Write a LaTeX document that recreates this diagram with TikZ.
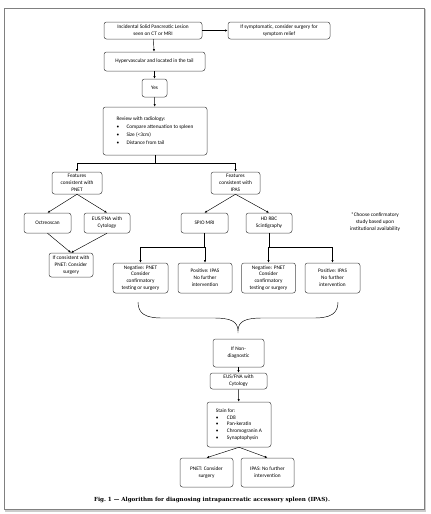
\documentclass[tikz,border=0pt]{standalone}
\usepackage{fontspec}
\setmainfont{Carlito}
\newfontfamily\capfont{DejaVu Serif}
\usetikzlibrary{arrows.meta}
\begin{document}
\begin{tikzpicture}[x=1pt, y=-1pt,
  box/.style={draw=black!70, rounded corners=2.5pt, line width=0.5pt, align=center, inner sep=1pt, font=\fontsize{5.3}{6.9}\selectfont},
  arr/.style={-{Latex[length=2.6pt,width=2.2pt]}, line width=0.45pt},
  ln/.style={line width=0.45pt}]
\useasboundingbox (0,0) rectangle (431,514);
% page frame
\draw[black!20, line width=1.6pt] (5.5,10) rectangle (425.5,511);
\draw[black!50, line width=0.9pt, fill=white] (4,8.5) rectangle (424,509.5);
% top of the chart
\node[box, minimum width=98pt, minimum height=17pt] (lesion) at (153,30.5){Incidental Solid Pancreatic Lesion\\seen on CT or MRI};
\node[box, minimum width=102pt, minimum height=17pt] (symp) at (279,30.5){If symptomatic, consider surgery for\\symptom relief};
\node[box, minimum width=101pt, minimum height=19pt] (hyper) at (154.5,61.5){Hypervascular and located in the tail};
\node[box, minimum width=25pt, minimum height=18pt] (yes) at (154.5,88){Yes};
\node[box, minimum width=104pt, minimum height=48pt, align=left] (review) at (155,131){Review with radiology:\\[1.2pt]
\makebox[10pt][l]{\textbullet}Compare attenuation to spleen\\[1.2pt]
\makebox[10pt][l]{\textbullet}Size (<3cm)\\[1.2pt]
\makebox[10pt][l]{\textbullet}Distance from tail};
\draw[arr](lesion) -- (symp);
\draw[arr](lesion) -- (hyper);
\draw[arr](hyper) -- (yes);
\draw[arr](yes) -- (review);
% split into PNET and IPAS
\node[box, minimum width=50pt, minimum height=22pt] (fpnet) at (77,183){Features\\consistent with\\PNET};
\node[box, minimum width=49pt, minimum height=22pt] (fipas) at (235.5,183){Features\\consistent with\\IPAS};
\coordinate (split1) at (155,163);
\draw[ln](review) -- (split1);
\draw[arr](split1) -| (fpnet);
\draw[arr](split1) -| (fipas);
% PNET side
\node[box, minimum width=47pt, minimum height=20pt] (octreo) at (47.5,223){Octreoscan};
\node[box, minimum width=46pt, minimum height=20pt] (eus1) at (107,223){EUS/FNA with\\Cytology};
\node[box, minimum width=44pt, minimum height=24pt] (ifcons) at (71,265){If consistent with\\PNET: Consider\\surgery};
\draw[arr](fpnet.south) -- (octreo.north);
\draw[arr](fpnet.south) -- (eus1.north);
\draw[arr](octreo.south) -- (ifcons.north);
\draw[arr](eus1.south) -- (ifcons.north);
% IPAS side
\node[box, minimum width=47pt, minimum height=20pt] (spio) at (204.5,223){SPIO MRI};
\node[box, minimum width=46pt, minimum height=20pt] (hdrbc) at (269,223){HD RBC\\Scintigraphy};
\node[align=center, font=\fontsize{5.3}{6.9}\selectfont] (note) at (375,222){*Choose confirmatory\\study based upon\\institutional availability};
\draw[arr](fipas.south) -- (spio.north);
\draw[arr](fipas.south) -- (hdrbc.north);
\node[box, minimum width=55pt, minimum height=30pt] (neg1) at (140.5,278){Negative: PNET\\Consider\\confirmatory\\testing or surgery};
\node[box, minimum width=54pt, minimum height=30pt] (pos1) at (205,278){Positive: IPAS\\No further\\intervention};
\node[box, minimum width=54pt, minimum height=30pt] (neg2) at (268.5,278){Negative: PNET\\Consider\\confirmatory\\testing or surgery};
\node[box, minimum width=55pt, minimum height=30pt] (pos2) at (332.5,278){Positive: IPAS\\No further\\intervention};
\coordinate (split2) at (204.5,247);
\coordinate (split3) at (269,247);
\draw[ln](spio) -- (split2);
\draw[arr](split2) -| (neg1);
\draw[arr](split2) -| (pos1);
\draw[ln](hdrbc) -- (split3);
\draw[arr](split3) -| (neg2);
\draw[arr](split3) -| (pos2);
% brace
\draw[ln] (138,302) .. controls (138,314) and (146,318) .. (162,318) -- (214,318)
  .. controls (230,318) and (238,321) .. (238,331)
  .. controls (238,321) and (246,318) .. (262,318) -- (314,318)
  .. controls (330,318) and (338,314) .. (338,302);
% bottom of the chart
\node[box, minimum width=51pt, minimum height=28pt] (nondiag) at (238.5,353){If Non-\\diagnostic};
\node[box, minimum width=57pt, minimum height=16pt] (eus2) at (238.5,381){EUS/FNA with\\Cytology};
\node[box, minimum width=64pt, minimum height=45pt, align=left] (stain) at (239,424.5){Stain for:\\
\makebox[11pt][l]{\textbullet}CD8\\
\makebox[11pt][l]{\textbullet}Pan-keratin\\
\makebox[11pt][l]{\textbullet}Chromogranin A\\
\makebox[11pt][l]{\textbullet}Synaptophysin};
\node[box, minimum width=53pt, minimum height=29pt] (pnetsurg) at (206.5,472.5){PNET: Consider\\surgery};
\node[box, minimum width=53pt, minimum height=29pt] (ipasno) at (267.5,472.5){IPAS: No further\\intervention};
\draw[arr](nondiag) -- (eus2);
\draw[arr](eus2) -- (stain);
\draw[arr](stain.south) -- (pnetsurg.north);
\draw[arr](stain.south) -- (ipasno.north);
% caption
\node[font=\capfont\bfseries\fontsize{5.6}{7}\selectfont] (caption) at (212,499.5){Fig.~1 — Algorithm for diagnosing intrapancreatic accessory spleen (IPAS).};
\end{tikzpicture}
\end{document}
